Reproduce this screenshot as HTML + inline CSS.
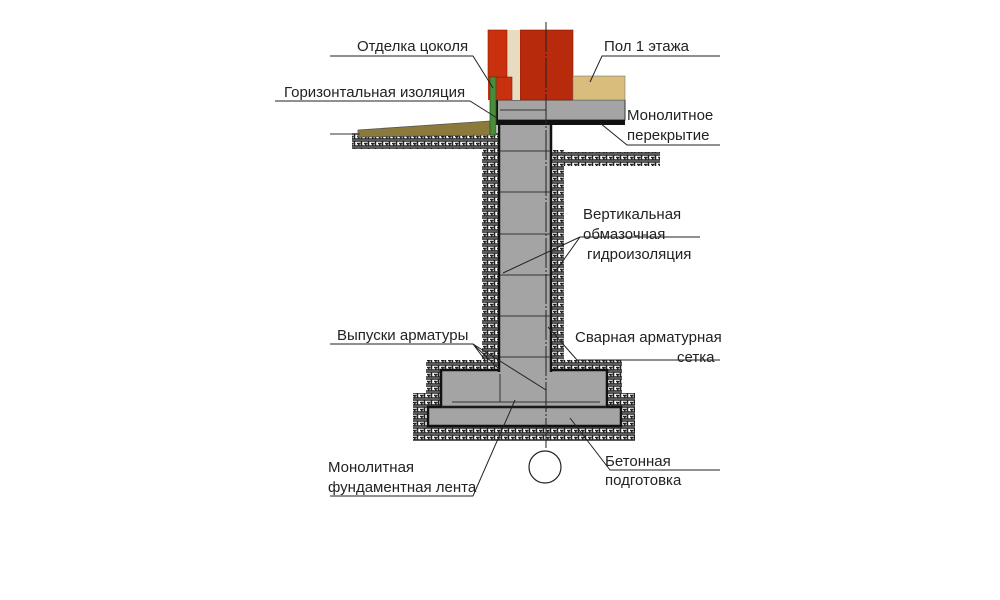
<!DOCTYPE html>
<html><head><meta charset="utf-8"><style>
html,body{margin:0;padding:0;background:#fff}
svg{display:block}
text{font-family:"Liberation Sans","DejaVu Sans",sans-serif;font-size:15px;fill:#222}
</style></head><body>
<svg width="1000" height="600" viewBox="0 0 1000 600">
<defs>
<pattern id="h" width="7" height="7" patternUnits="userSpaceOnUse">
<rect width="7" height="7" fill="#fff"/>
<path d="M0 1H7M0 3.5H3.5M0 6H7M4.5 1V6M1.8 3.5V6" stroke="#222" stroke-width="1.5" fill="none"/>
</pattern>
</defs>
<rect x="352" y="133" width="140" height="16" fill="url(#h)"/>
<rect x="482" y="133" width="18" height="240" fill="url(#h)"/>
<rect x="550" y="150" width="14" height="222" fill="url(#h)"/>
<rect x="550" y="152" width="110" height="14" fill="url(#h)"/>
<rect x="426" y="360" width="196" height="50" fill="url(#h)"/>
<rect x="413" y="393" width="222" height="48" fill="url(#h)"/>
<polygon points="358,130 490,121 490,135 358,137" fill="#8c7a3c" stroke="#555" stroke-width="0.8"/>
<line x1="330" y1="134" x2="360" y2="134" stroke="#333"/>
<rect x="441" y="370" width="166" height="38" fill="#a4a4a4" stroke="#111" stroke-width="2.5"/>
<rect x="428" y="407" width="193" height="19" fill="#a4a4a4" stroke="#111" stroke-width="2.5"/>
<line x1="452" y1="402" x2="600" y2="402" stroke="#333"/>
<line x1="441" y1="407" x2="607" y2="407" stroke="#222" stroke-width="1"/>
<line x1="500" y1="370" x2="500" y2="402" stroke="#333"/>
<rect x="499" y="124" width="52" height="250" fill="#a4a4a4"/>
<line x1="499" y1="124" x2="499" y2="372" stroke="#111" stroke-width="2.5"/>
<line x1="551" y1="124" x2="551" y2="372" stroke="#111" stroke-width="2.5"/>
<g stroke="#333" stroke-width="1">
<line x1="500" y1="151" x2="550" y2="151"/><line x1="500" y1="192" x2="550" y2="192"/>
<line x1="500" y1="234" x2="550" y2="234"/><line x1="500" y1="275" x2="550" y2="275"/>
<line x1="500" y1="316" x2="550" y2="316"/><line x1="500" y1="357" x2="550" y2="357"/>
</g>
<rect x="497" y="100" width="128" height="20" fill="#a4a4a4" stroke="#333" stroke-width="1"/>
<line x1="500" y1="110" x2="546" y2="110" stroke="#333"/>
<rect x="497" y="120" width="128" height="5" fill="#111"/>
<line x1="497" y1="100" x2="497" y2="125" stroke="#111" stroke-width="2"/>
<rect x="488" y="30" width="85" height="70" fill="#c9300e"/>
<rect x="520" y="30" width="53" height="70" fill="#b82a0c" stroke="#8a1a05" stroke-width="0.6"/>
<rect x="507" y="30" width="13" height="70" fill="#e8dcc0"/>
<rect x="494" y="77" width="18" height="23" fill="#c9300e" stroke="#8a1a05" stroke-width="0.6"/>
<rect x="488" y="30" width="19" height="47" fill="#c9300e" stroke="#8a1a05" stroke-width="0.6"/>
<rect x="573" y="76" width="52" height="24" fill="#d9bd7c" stroke="#777" stroke-width="0.6"/>
<rect x="490" y="77" width="6" height="58" fill="#4a8c3a" stroke="#2a5a20" stroke-width="0.8"/>
<line x1="546" y1="22" x2="546" y2="450" stroke="#222" stroke-width="1" stroke-dasharray="30,2,2,2"/>
<circle cx="545" cy="467" r="16" fill="#fff" stroke="#222" stroke-width="1.2"/>
<g stroke="#222" stroke-width="1" fill="none">
<polyline points="330,56 473,56 493,88"/>
<polyline points="275,101 470,101 497,118"/>
<polyline points="720,56 602,56 590,82"/>
<polyline points="720,145 627,145 600,123"/>
<polyline points="700,237 580,237 555,272"/>
<line x1="580" y1="237" x2="503" y2="273"/>
<polyline points="330,344 473,344 485,360"/>
<line x1="473" y1="344" x2="546" y2="390"/>
<line x1="473" y1="344" x2="500" y2="370"/>
<polyline points="720,360 577,360 548,327"/>
<polyline points="330,496 473,496 515,400"/>
<polyline points="720,470 610,470 570,418"/>
</g>
<text x="357" y="51">Отделка цоколя</text>
<text x="284" y="97">Горизонтальная изоляция</text>
<text x="604" y="51">Пол 1 этажа</text>
<text x="627" y="120">Монолитное</text>
<text x="627" y="140">перекрытие</text>
<text x="583" y="219">Вертикальная</text>
<text x="583" y="239">обмазочная</text>
<text x="587" y="259">гидроизоляция</text>
<text x="337" y="340">Выпуски арматуры</text>
<text x="575" y="342">Сварная арматурная</text>
<text x="677" y="362">сетка</text>
<text x="328" y="472">Монолитная</text>
<text x="328" y="492">фундаментная лента</text>
<text x="605" y="466">Бетонная</text>
<text x="605" y="485">подготовка</text>
</svg>
</body></html>
